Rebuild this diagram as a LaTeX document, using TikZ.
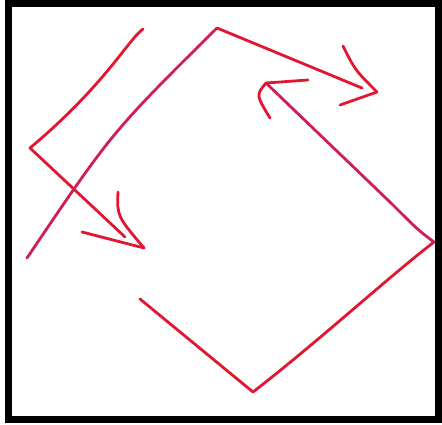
\documentclass[tikz,border=0pt]{standalone}
\definecolor{inkred}{RGB}{226, 22, 48}
\definecolor{inkpink}{RGB}{206, 30, 88}
\usepackage{tikz}

\begin{document}
\begin{tikzpicture}[x=1pt, y=-1pt]
    \tikzstyle{pen} = [draw=inkred, line width=2.8pt, line cap=round, line join=round]
    \tikzstyle{frame} = [draw=black, line width=7pt]

    \useasboundingbox (0,0) rectangle (442,424);
    \draw [frame] (8.5,3) rectangle (438.5,419.5);

    % left arrow
    \coordinate (a0) at (143,29);
    \coordinate (a1) at (30,148);
    \coordinate (a2) at (125,237);
    \coordinate (atip) at (144,248);
    \draw [pen] (a0) .. controls (128,40) and (105,85) .. (a1) -- (a2);
    \draw [pen] (118,192) .. controls (117,216) .. (atip);
    \draw [pen] (82,232) -- (atip);

    % top arrow
    \coordinate (b0) at (27,258);
    \coordinate (b1) at (217,28);
    \coordinate (b2) at (362,88);
    \coordinate (btip) at (377,92);
    \draw [pen, draw=inkpink] (b0) .. controls (112,132) .. (b1);
    \draw [pen] (b1) -- (b2);
    \draw [pen] (343,46) .. controls (355,70) .. (btip);
    \draw [pen] (340,105) -- (btip);

    % right arrow
    \coordinate (c0) at (140,299);
    \coordinate (c1) at (253,392);
    \coordinate (c2) at (434,242);
    \coordinate (c3) at (266,83);
    \draw [pen] (c0) -- (c1) .. controls (320,340) and (385,280) .. (c2);
    \draw [pen, draw=inkpink] (c2) .. controls (418,230) .. (392,204) -- (c3);
    \draw [pen] (308,80) -- (c3) .. controls (256,95) .. (270,118);
\end{tikzpicture}
\end{document}
